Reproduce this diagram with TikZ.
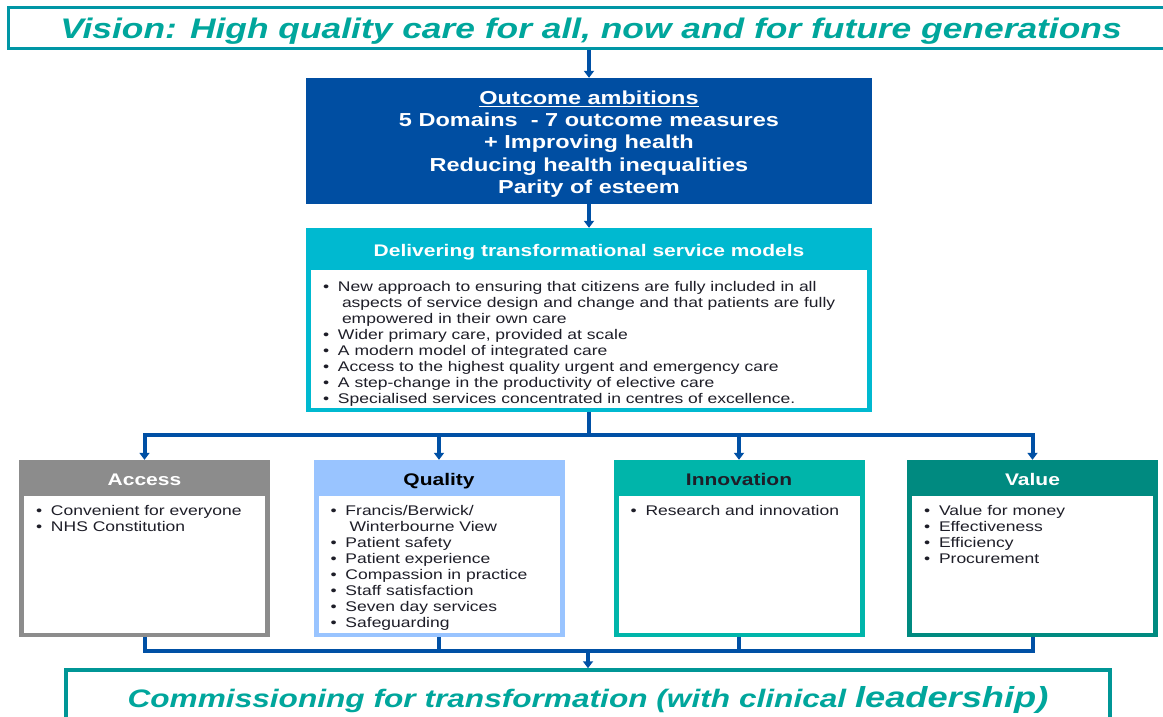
\documentclass[tikz,border=0pt]{standalone}
\usepackage{fontspec}
\setmainfont{Liberation Sans}[FakeStretch=1.25]
\usetikzlibrary{arrows.meta,positioning}

\definecolor{visionteal}{RGB}{0,150,165}
\definecolor{visiontext}{RGB}{0,166,156}
\definecolor{connblue}{RGB}{0,80,165}
\definecolor{outcomeblue}{RGB}{0,78,162}
\definecolor{delivcyan}{RGB}{0,185,208}
\definecolor{accessgray}{RGB}{140,140,140}
\definecolor{qualityblue}{RGB}{153,196,255}
\definecolor{innovteal}{RGB}{0,181,170}
\definecolor{valueteal}{RGB}{0,138,128}
\definecolor{commteal}{RGB}{0,150,150}
\definecolor{itemtext}{RGB}{30,30,40}

\newcommand{\itm}[1]{\makebox[15pt][l]{\textbullet}#1}
\newcommand{\cont}[1]{\hspace*{19pt}#1}

\begin{document}
\begin{tikzpicture}
	[x=1pt,y=-1pt,>={Triangle[length=7pt,width=10pt]},
		line/.style={draw=connblue,line width=4pt},
		conn/.style={line,->},
		framebox/.style={draw=#1,line width=3pt,fill=white,text=visiontext,font=\fontsize{28.3}{32}\selectfont\bfseries\itshape},
		panel/.style={fill=#1,minimum width=251,minimum height=177,inner sep=0},
		body/.style={fill=white,inner sep=0},
		headtext/.style={font=\fontsize{16.8}{19}\selectfont\bfseries,inner sep=0,text height=12pt,text depth=0pt},
		listtext/.style={align=left,inner sep=0,text=itemtext,font=\fontsize{14}{16}\selectfont}]

	\fill[white] (0,0) rectangle (1163,716);
	\useasboundingbox (0,0) rectangle (1163,716);

	% vision and outcomes
	\node[framebox=visionteal, minimum width=1166, minimum height=41, text height=22pt, text depth=1pt] (vision) at (591,27.5) {Vision: High quality care for all, now and for future generations};
	\node[fill=outcomeblue, minimum width=566, minimum height=126] (outcome) at (589,141) {};
	\node[text=white, align=center, font=\fontsize{18.8}{22.3}\selectfont\bfseries] (outcometext) at (589,144) {\underline{Outcome ambitions}\\5 Domains\ \ - 7 outcome measures\\+ Improving health\\Reducing health inequalities\\Parity of esteem};

	% delivering
	\node[panel=delivcyan, minimum width=566, minimum height=184] (deliver) at (589,320) {};
	\node[body, minimum width=556, minimum height=138, above=4pt of deliver.south] (deliverbody) {};
	\node[headtext, text=white] (delivertitle) at (589,250) {Delivering transformational service models};
	\node[listtext, below right=11pt and 12pt of deliverbody.north west] (deliverlist) {\itm{New approach to ensuring that citizens are fully included in all}\\
		\cont{aspects of service design and change and that patients are fully}\\
		\cont{empowered in their own care}\\
		\itm{Wider primary care, provided at scale}\\
		\itm{A modern model of integrated care}\\
		\itm{Access to the highest quality urgent and emergency care}\\
		\itm{A step-change in the productivity of elective care}\\
		\itm{Specialised services concentrated in centres of excellence.}};

	% four pillars
	\node[panel=accessgray] (access) at (144.5,548.5) {};
	\node[body, minimum width=241, minimum height=137, above=4pt of access.south] (accessbody) {};
	\node[headtext, text=white] (accesstitle) at (144.5,479) {Access};
	\node[listtext, below right=9pt and 12pt of accessbody.north west] (accesslist) {\itm{Convenient for everyone}\\\itm{NHS Constitution}};

	\node[panel=qualityblue] (quality) at (439,548.5) {};
	\node[body, minimum width=241, minimum height=137, above=4pt of quality.south] (qualitybody) {};
	\node[headtext, text=black] (qualitytitle) at (439,479) {Quality};
	\node[listtext, below right=9pt and 12pt of qualitybody.north west] (qualitylist) {\itm{Francis/Berwick/}\\\cont{Winterbourne View}\\\itm{Patient safety}\\\itm{Patient experience}\\\itm{Compassion in practice}\\\itm{Staff satisfaction}\\\itm{Seven day services}\\\itm{Safeguarding}};

	\node[panel=innovteal] (innov) at (739,548.5) {};
	\node[body, minimum width=241, minimum height=137, above=4pt of innov.south] (innovbody) {};
	\node[headtext, text=itemtext] (innovtitle) at (739,479) {Innovation};
	\node[listtext, below right=9pt and 12pt of innovbody.north west] (innovlist) {\itm{Research and innovation}};

	\node[panel=valueteal] (value) at (1032.5,548.5) {};
	\node[body, minimum width=241, minimum height=137, above=4pt of value.south] (valuebody) {};
	\node[headtext, text=white] (valuetitle) at (1032.5,479) {Value};
	\node[listtext, below right=9pt and 12pt of valuebody.north west] (valuelist) {\itm{Value for money}\\\itm{Effectiveness}\\\itm{Efficiency}\\\itm{Procurement}};

	% commissioning
	\node[framebox=commteal, line width=3.5pt, minimum width=1044, minimum height=60, font=\fontsize{25.3}{28}\selectfont\bfseries\itshape] (commission) at (588,700) {Commissioning for transformation (with clinical {\fontsize{29}{32}\selectfont leadership)}};

	% connectors
	\path (deliver.south) ++(0,23) coordinate (split);
	\path (commission.north) ++(0,-17) coordinate (join);
	\draw[conn] (outcome.north |- vision.south) -- (outcome.north);
	\draw[conn] (outcome.south) -- (deliver.north);
	\draw[line] (deliver.south) -- (split);
	\foreach \p in {access,quality,innov,value}
		\draw[conn] (split) -| (\p.north);
	\foreach \p in {access,quality,innov,value}
		\draw[line] (\p.south) |- (join);
	\draw[conn] (join) -- (commission.north);

\end{tikzpicture}
\end{document}
